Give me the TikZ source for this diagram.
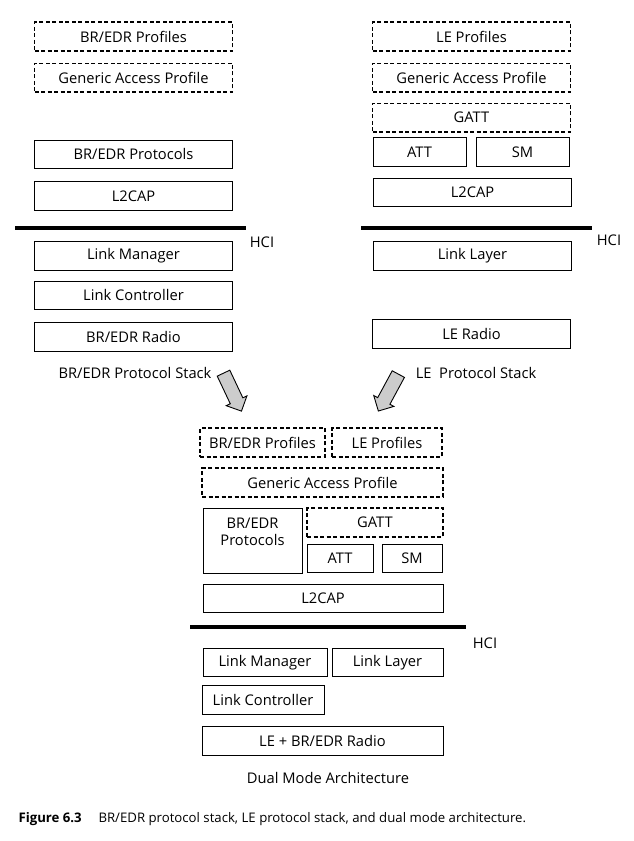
\documentclass[tikz,border=0pt]{standalone}
\usepackage{fontspec}
\setmainfont{Open Sans}
\usetikzlibrary{positioning,shapes.arrows}

\begin{document}
\begin{tikzpicture}[x=1pt,y=-1pt,font=\fontsize{14.7}{17}\selectfont]
  \tikzstyle{layer}=[draw,line width=0.9pt,minimum height=28.5pt,inner sep=0pt]
  \tikzstyle{dlayer}=[layer,line width=1.6pt,dash pattern=on 4pt off 2.5pt]
  \tikzstyle{hci}=[line width=3.5pt]
  \tikzstyle{mover}=[single arrow,draw,line width=0.9pt,fill={rgb:black,1;white,4},
                     inner xsep=0pt,inner ysep=6.5pt,single arrow head extend=4.5pt,minimum height=42pt]

  \useasboundingbox (0,0) rectangle (633,841);

  \node[dlayer,minimum width=198pt] (brProf)  at (133.5,36.5)     {BR/EDR Profiles};
  \node[dlayer,minimum width=198pt] (brGap)   [below=11pt of brProf] {Generic Access Profile};
  \node[layer,minimum width=198pt]  (brProt)  [below=47pt of brGap]  {BR/EDR Protocols};
  \node[layer,minimum width=198pt]  (brL2cap) [below=12pt of brProt] {L2CAP};
  \draw[hci] (15,228) -- (246,228);
  \node (brHci) at (262,242) {HCI};
  \node[layer,minimum width=198pt]  (brLm)    at (133.5,256)      {Link Manager};
  \node[layer,minimum width=198pt]  (brLc)    [below=10pt of brLm]   {Link Controller};
  \node[layer,minimum width=198pt]  (brRadio) [below=12pt of brLc]   {BR/EDR Radio};
  \node (brStack) at (135,373) {BR/EDR Protocol Stack};

  \node[dlayer,minimum width=198pt] (leProf)  at (471.5,36.5)     {LE Profiles};
  \node[dlayer,minimum width=198pt] (leGap)   [below=11pt of leProf] {Generic Access Profile};
  \node[dlayer,minimum width=198pt] (leGatt)  [below=10pt of leGap]  {GATT};
  \node[layer,minimum width=93pt]   (leAtt)   at (419.5,152)      {ATT};
  \node[layer,minimum width=93pt]   (leSm)    at (522.5,152)      {SM};
  \node[layer,minimum width=198pt]  (leL2cap) at (472.5,192.5)    {L2CAP};
  \draw[hci] (361,228) -- (592,228);
  \node (leHci) at (609,240) {HCI};
  \node[layer,minimum width=198pt]  (leLl)    at (472.5,256)      {Link Layer};
  \node[layer,minimum width=198pt]  (leRadio) at (471.5,334)      {LE Radio};
  \node (leStack) at (476,373) {LE~ Protocol Stack};

  \node[mover,rotate=-64.7]  (brArrow) at (231,389)   {};
  \node[mover,rotate=-118.4] (leArrow) at (390,389.5) {};

  \node[dlayer,minimum width=125pt] (dmBrProf) at (262.5,442.5) {BR/EDR Profiles};
  \node[dlayer,minimum width=110pt] (dmLeProf) at (387,442.5)   {LE Profiles};
  \node[dlayer,minimum width=241pt] (dmGap)    at (322.5,482.5) {Generic Access Profile};
  \node[layer,minimum width=99pt,minimum height=65pt] (dmBrProt) at (252.5,540.5) {};
  \node[align=center,anchor=north] (dmBrProtTxt) at ([yshift=-7pt]dmBrProt.north) {BR/EDR\\Protocols};
  \node[dlayer,minimum width=136pt] (dmGatt)   at (375,522.5)   {GATT};
  \node[layer,minimum width=66pt]   (dmAtt)    at (340,558.5)   {ATT};
  \node[layer,minimum width=60pt]   (dmSm)     at (412,558.5)   {SM};
  \node[layer,minimum width=240pt]  (dmL2cap)  at (323,598.5)   {L2CAP};
  \draw[hci] (190,627) -- (466,627);
  \node (dmHci) at (485,643) {HCI};
  \node[layer,minimum width=124pt]  (dmLm)     at (265,662.5)   {Link Manager};
  \node[layer,minimum width=111pt]  (dmLl)     at (387.5,662.5) {Link Layer};
  \node[layer,minimum width=122pt]  (dmLc)     at (263,700)     {Link Controller};
  \node[layer,minimum width=241pt]  (dmRadio)  at (322.5,741)   {LE + BR/EDR Radio};
  \node (dmTitle) at (328,778) {Dual Mode Architecture};

  \node[anchor=base west,font=\fontsize{13.2}{15}\selectfont\bfseries] (figNum) at (15,822) {Figure 6.3};
  \node[anchor=base west,font=\fontsize{13.2}{15}\selectfont] (figText) at (95,822)
       {BR/EDR protocol stack, LE protocol stack, and dual mode architecture.};
\end{tikzpicture}
\end{document}
